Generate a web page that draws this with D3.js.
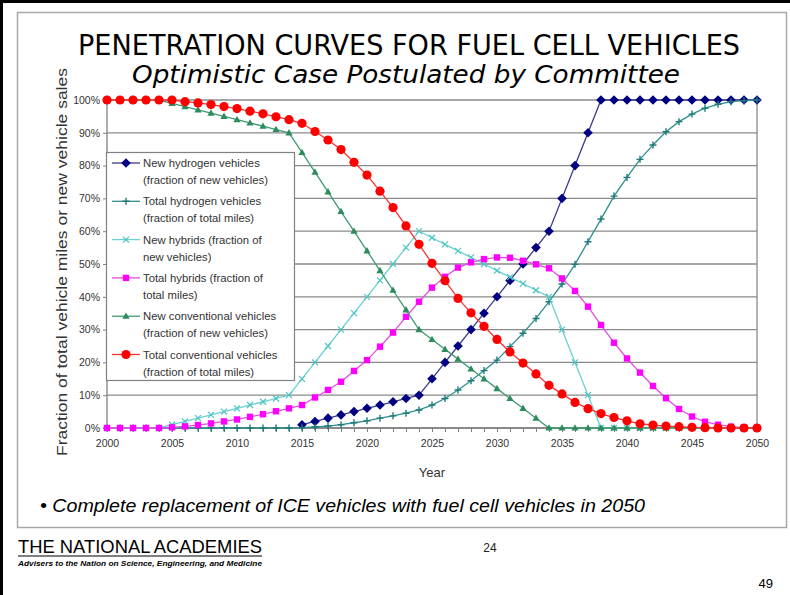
<!DOCTYPE html>
<html>
<head>
<meta charset="utf-8">
<script src="https://cdn.jsdelivr.net/npm/d3@7"></script>
<style>
  body { margin: 0; background: #fff; }
  svg { display: block; }
</style>
</head>
<body>
<div id="chart"></div>
<script>
// categories
const years = d3.range(2000, 2051);
const yTicks = [0, 10, 20, 30, 40, 50, 60, 70, 80, 90, 100];
const xLabelYears = [2000, 2005, 2010, 2015, 2020, 2025, 2030, 2035, 2040, 2045, 2050];

// series values (percent), one per year 2000..2050; null = no point
const newHydrogen = [null, null, null, null, null, null, null, null, null, null, null, null, null, null, null,
  1, 2, 3, 4, 5, 6, 7, 8, 9, 10,
  15, 20, 25, 30, 35, 40, 45, 50, 55, 60,
  70, 80, 90,
  100, 100, 100, 100, 100, 100, 100, 100, 100, 100, 100, 100, 100];
const totalHydrogen = [0, 0, 0, 0, 0, 0, 0, 0, 0, 0, 0, 0, 0, 0, 0,
  0.1, 0.3, 0.6, 1.0, 1.6, 2.2, 3.0, 3.7, 4.5, 5.5,
  7.0, 9.0, 11.6, 14.4, 17.5, 20.7, 24.8, 28.9, 33.4, 38.5,
  43.9, 49.9, 56.8, 63.7, 70.7, 76.4, 81.9, 86.3, 90.3, 93.4,
  95.7, 97.5, 98.7, 99.5, 99.8, 100];
const newHybrids = [0, 0, 0, 0, 0,
  1, 2, 3, 4, 5, 6, 7, 8, 9, 10,
  15, 20, 25, 30, 35, 40, 45, 50, 55, 60,
  58, 56, 54, 52, 50, 48, 46, 44, 42, 40,
  30, 20, 10,
  0, 0, 0, 0, 0, 0, 0, 0, 0, 0, 0, 0, 0];
const totalHybrids = [0, 0, 0, 0, 0,
  0.2, 0.5, 0.9, 1.4, 2.0, 2.6, 3.4, 4.2, 5.1, 6.0,
  7.0, 9.3, 11.6, 14.1, 17.4, 20.7, 24.8, 29.1, 33.9, 38.5,
  42.8, 46.1, 48.9, 50.5, 51.5, 52.0, 51.9, 51.0, 49.9, 48.7,
  45.6, 41.8, 37.0, 31.4, 26.0, 21.2, 16.9, 12.8, 9.1, 5.8,
  3.5, 1.9, 1.0, 0.4, 0.1, 0];
const newConventional = [100, 100, 100, 100, 100,
  99, 98, 97, 96, 95, 94, 93, 92, 91, 90,
  84, 78, 72, 66, 60, 54, 48, 42, 36, 30,
  27, 24, 21, 18, 15, 12, 9, 6, 3, 0,
  0, 0, 0, 0, 0, 0, 0, 0, 0, 0, 0, 0, 0, 0, 0, 0];
const totalConventional = [100, 100, 100, 100, 100, 100,
  99.5, 99.1, 98.6, 98.0, 97.4, 96.6, 95.8, 94.9, 94.0,
  92.9, 90.4, 87.8, 84.9, 81.0, 77.1, 72.2, 67.2, 61.6, 56.0,
  50.2, 44.9, 39.5, 35.1, 31.0, 27.0, 23.2, 19.8, 16.5, 13.0,
  10.4, 7.8, 5.9, 4.4, 3.2, 2.2, 1.3, 0.9, 0.6, 0.4,
  0.2, 0.1, 0, 0, 0, 0];

const seriesNames = [
  ['New hydrogen vehicles', '(fraction of new vehicles)'],
  ['Total hydrogen vehicles', '(fraction of total miles)'],
  ['New hybrids (fraction of', 'new vehicles)'],
  ['Total hybrids (fraction of', 'total miles)'],
  ['New conventional vehicles', '(fraction of new vehicles)'],
  ['Total conventional vehicles', '(fraction of total miles)']
];

const styles = [
  { line: '#3b3b8f', mark: '#000080', shape: 'diamond' },
  { line: '#2f8f8f', mark: '#1f7a7a', shape: 'plus' },
  { line: '#6cd0d0', mark: '#4cc4c4', shape: 'cross' },
  { line: '#e24ce2', mark: '#ff00ff', shape: 'square' },
  { line: '#3f9b72', mark: '#2e8b5e', shape: 'triangle' },
  { line: '#ff3030', mark: '#ff0000', shape: 'circle' }
];

const seriesValues = [newHydrogen, totalHydrogen, newHybrids, totalHybrids, newConventional, totalConventional];

const chart = { left: 107, right: 757, top: 100, bottom: 428 };

const svg = d3.select('#chart')
              .append('svg')
              .attr('width', 790)
              .attr('height', 595);

// page frame
svg.append('rect').attr('x', 0).attr('y', 0).attr('width', 790).attr('height', 3).attr('fill', '#000');
svg.append('rect').attr('x', 0).attr('y', 0).attr('width', 3).attr('height', 595).attr('fill', '#000');
svg.append('rect')
   .attr('x', 17.5).attr('y', 12.5).attr('width', 769).attr('height', 515)
   .attr('fill', 'none').attr('stroke', '#a8a8a8').attr('stroke-width', 1.5);

// titles
svg.append('text')
   .attr('x', 409).attr('y', 55)
   .attr('text-anchor', 'middle')
   .attr('font-family', 'DejaVu Sans')
   .attr('font-size', 28)
   .attr('textLength', 662).attr('lengthAdjust', 'spacingAndGlyphs')
   .attr('fill', '#000')
   .text('PENETRATION CURVES FOR FUEL CELL VEHICLES');

svg.append('text')
   .attr('x', 406).attr('y', 83)
   .attr('text-anchor', 'middle')
   .attr('font-family', 'DejaVu Sans')
   .attr('font-style', 'italic')
   .attr('font-size', 25)
   .attr('textLength', 548).attr('lengthAdjust', 'spacingAndGlyphs')
   .attr('fill', '#000')
   .text('Optimistic Case Postulated by Committee');

const x = d3.scaleLinear().domain([2000, 2050]).range([chart.left, chart.right]);
const y = d3.scaleLinear().domain([0, 100]).range([chart.bottom, chart.top]);

// gridlines
svg.append('g')
   .selectAll('line')
   .data(yTicks)
   .enter()
   .append('line')
   .attr('x1', chart.left).attr('x2', chart.right)
   .attr('y1', d => y(d)).attr('y2', d => y(d))
   .attr('stroke', '#8a8a8a')
   .attr('stroke-width', 1.3);

// right plot border
svg.append('line')
   .attr('x1', chart.right).attr('x2', chart.right)
   .attr('y1', chart.top).attr('y2', chart.bottom)
   .attr('stroke', '#8a8a8a').attr('stroke-width', 1.3);

// axes
const yAxis = svg.append('g')
                 .attr('transform', `translate(${chart.left},0)`)
                 .call(d3.axisLeft(y).tickValues(yTicks).tickFormat(d => d + '%').tickSize(4).tickPadding(3));

const xAxis = svg.append('g')
                 .attr('transform', `translate(0,${chart.bottom})`)
                 .call(d3.axisBottom(x).tickValues(years).tickSize(4).tickPadding(8)
                   .tickFormat(d => xLabelYears.includes(d) ? d : ''));

[yAxis, xAxis].forEach(a => {
  a.select('.domain').attr('stroke', '#808080').attr('stroke-width', 1.3);
  a.selectAll('.tick line').attr('stroke', '#808080');
  a.selectAll('text')
   .attr('font-family', 'Liberation Sans')
   .attr('font-size', 10.5)
   .attr('fill', '#333');
});
xAxis.select('.domain').attr('d', `M${chart.left},0H${chart.right}`);
yAxis.select('.domain').attr('d', `M0,${chart.top}V${chart.bottom}`);

svg.append('text')
   .attr('x', 432).attr('y', 477)
   .attr('text-anchor', 'middle')
   .attr('font-family', 'Liberation Sans')
   .attr('font-size', 13)
   .attr('fill', '#333')
   .text('Year');

svg.append('text')
   .attr('transform', 'translate(67,262) rotate(-90)')
   .attr('text-anchor', 'middle')
   .attr('font-family', 'Liberation Sans')
   .attr('font-size', 15)
   .attr('textLength', 388).attr('lengthAdjust', 'spacingAndGlyphs')
   .attr('fill', '#333')
   .text('Fraction of total vehicle miles or new vehicle sales');

// marker drawing
function drawMarker(g, shape, color) {
  if (shape === 'circle') {
    g.append('circle').attr('r', 4.6).attr('fill', color);
  } else if (shape === 'square') {
    g.append('rect').attr('x', -3.2).attr('y', -3.2).attr('width', 6.4).attr('height', 6.4).attr('fill', color);
  } else if (shape === 'diamond') {
    g.append('path').attr('d', 'M0,-4.8L4.8,0L0,4.8L-4.8,0Z').attr('fill', color);
  } else if (shape === 'triangle') {
    g.append('path').attr('d', 'M0,-3.8L3.6,2.6L-3.6,2.6Z').attr('fill', color);
  } else if (shape === 'plus') {
    g.append('path').attr('d', 'M-3.5,0H3.5M0,-3.5V3.5').attr('stroke', color).attr('stroke-width', 1.4);
  } else if (shape === 'cross') {
    g.append('path').attr('d', 'M-3,-3L3,3M-3,3L3,-3').attr('stroke', color).attr('stroke-width', 1.2);
  }
}

const line = d3.line()
               .defined(d => d.v !== null)
               .x(d => x(d.year))
               .y(d => y(d.v));

const seriesGroup = svg.selectAll('.series')
                       .data(seriesValues)
                       .enter()
                       .append('g')
                       .attr('class', 'series');

seriesGroup.each(function (vals, i) {
  const pts = years.map((yr, j) => ({ year: yr, v: vals[j] }));
  const g = d3.select(this);
  g.append('path')
   .attr('d', line(pts))
   .attr('fill', 'none')
   .attr('stroke', styles[i].line)
   .attr('stroke-width', 1.3);
  pts.filter(p => p.v !== null).forEach(p => {
    const m = g.append('g').attr('transform', `translate(${x(p.year)},${y(p.v)})`);
    drawMarker(m, styles[i].shape, styles[i].mark);
  });
});

// legend
const legend = svg.append('g');
legend.append('rect')
      .attr('x', 106.5).attr('y', 152.5).attr('width', 188).attr('height', 228)
      .attr('fill', '#fff').attr('stroke', '#808080').attr('stroke-width', 1.2);

seriesNames.forEach((names, i) => {
  const cy = 163 + i * 38.3;
  const item = legend.append('g');
  item.append('line')
      .attr('x1', 112).attr('x2', 140).attr('y1', cy).attr('y2', cy)
      .attr('stroke', styles[i].line).attr('stroke-width', 1.3);
  drawMarker(item.append('g').attr('transform', `translate(126,${cy})`), styles[i].shape, styles[i].mark);
  names.forEach((t, k) => {
    item.append('text')
        .attr('x', 143).attr('y', cy + 4 + k * 17)
        .attr('font-family', 'Liberation Sans')
        .attr('font-size', 11.3)
        .attr('fill', '#333')
        .text(t);
  });
});

// footer texts
svg.append('text')
   .attr('x', 40).attr('y', 512)
   .attr('font-family', 'Liberation Sans')
   .attr('font-style', 'italic')
   .attr('font-size', 17.5)
   .attr('textLength', 605).attr('lengthAdjust', 'spacingAndGlyphs')
   .attr('fill', '#000')
   .text('\u2022 Complete replacement of ICE vehicles with fuel cell vehicles in 2050');

svg.append('text')
   .attr('x', 18).attr('y', 553)
   .attr('font-family', 'Liberation Sans Narrow, Liberation Sans')
   .attr('font-size', 18)
   .attr('textLength', 244).attr('lengthAdjust', 'spacingAndGlyphs')
   .attr('fill', '#000')
   .text('THE NATIONAL ACADEMIES');
svg.append('line')
   .attr('x1', 18).attr('x2', 262).attr('y1', 556).attr('y2', 556)
   .attr('stroke', '#000').attr('stroke-width', 1);
svg.append('text')
   .attr('x', 18).attr('y', 566)
   .attr('font-family', 'Liberation Sans Narrow, Liberation Sans')
   .attr('font-style', 'italic')
   .attr('font-weight', 'bold')
   .attr('font-size', 8)
   .attr('textLength', 244).attr('lengthAdjust', 'spacingAndGlyphs')
   .attr('fill', '#000')
   .text('Advisers to the Nation on Science, Engineering, and Medicine');

svg.append('text')
   .attr('x', 490).attr('y', 552)
   .attr('text-anchor', 'middle')
   .attr('font-family', 'Liberation Sans')
   .attr('font-size', 12)
   .attr('fill', '#222')
   .text('24');

svg.append('text')
   .attr('x', 773).attr('y', 588)
   .attr('text-anchor', 'end')
   .attr('font-family', 'Liberation Sans')
   .attr('font-size', 13)
   .attr('fill', '#000')
   .text('49');
</script>
</body>
</html>
